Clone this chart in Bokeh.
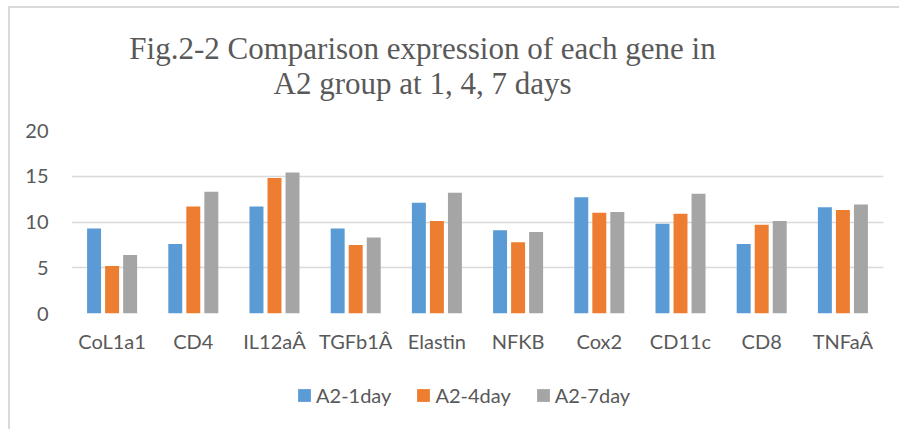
from bokeh.plotting import figure
from bokeh.layouts import column
from bokeh.models import (ColumnDataSource, FactorRange, Range1d, FixedTicker,
                          Legend, LegendItem, Label)
from bokeh.transform import dodge
from bokeh.embed import file_html
from bokeh.resources import INLINE

genes = ["CoL1a1", "CD4", "IL12aÂ", "TGFb1Â", "Elastin", "NFKB", "Cox2", "CD11c", "CD8", "TNFaÂ"]
series_names = ["A2-1day", "A2-4day", "A2-7day"]
day1 = [9.3, 7.6, 11.7, 9.3, 12.1, 9.1, 12.7, 9.8, 7.6, 11.6]
day4 = [5.2, 11.7, 14.8, 7.5, 10.1, 7.8, 11.0, 10.9, 9.7, 11.3]
day7 = [6.4, 13.3, 15.4, 8.3, 13.2, 8.9, 11.1, 13.1, 10.1, 11.9]
y_ticks = [0, 5, 10, 15, 20]
title_lines = ["Fig.2-2 Comparison expression of each gene in", "A2 group at 1, 4, 7 days"]

colors = ["#5B9BD5", "#ED7D31", "#A5A5A5"]
FONT = "Lato"
TXT = "#595959"

src = ColumnDataSource(dict(gene=genes, d1=day1, d4=day4, d7=day7))
cols = ["d1", "d4", "d7"]
offsets = [-0.222, 0.0, 0.222]

# ---- title strip ----
H0 = 110
tf = figure(width=899, height=H0, x_range=Range1d(0, 1), y_range=Range1d(0, 1),
            output_backend="svg", toolbar_location=None, title=None,
            x_axis_location=None, y_axis_location=None,
            min_border_left=71, min_border_right=16, min_border_top=0, min_border_bottom=0)
tf.outline_line_color = None
tf.background_fill_alpha = 0
tf.border_fill_alpha = 0
tf.grid.visible = False
for txt, yb in zip(title_lines, [H0 - 47.5, H0 - 82.5]):
    tf.add_layout(Label(x=351, y=yb, x_units="screen", y_units="screen", text=txt,
                        text_align="center", text_baseline="alphabetic",
                        text_font="Liberation Serif", text_font_size="31px", text_color=TXT))

# ---- main chart ----
H1 = 250
p = figure(width=899, height=H1, x_range=FactorRange(*genes), y_range=Range1d(0, 20),
           output_backend="svg", toolbar_location=None, title=None,
           min_border_left=71, min_border_right=16, min_border_top=20, min_border_bottom=47)
p.outline_line_color = None
p.background_fill_color = "white"
p.border_fill_alpha = 0

for col, off, c in zip(cols, offsets, colors):
    p.vbar(x=dodge("gene", off, range=p.x_range), top=col, width=0.172, source=src,
           fill_color=c, line_color=None)

p.xgrid.grid_line_color = None
p.ygrid.grid_line_color = "#d9d9d9"
p.ygrid.grid_line_width = 1.5
p.ygrid.ticker = FixedTicker(ticks=y_ticks)

p.yaxis.ticker = FixedTicker(ticks=y_ticks)
p.yaxis.axis_line_color = None
p.yaxis.major_tick_line_color = None
p.yaxis.major_tick_out = 0
p.yaxis.minor_tick_line_color = None
p.yaxis.major_label_standoff = 23
p.yaxis.major_label_text_font = FONT
p.yaxis.major_label_text_font_size = "20px"
p.yaxis.major_label_text_color = TXT

p.xaxis.axis_line_color = None
p.xaxis.major_tick_line_color = None
p.xaxis.major_tick_out = 0
p.xaxis.major_label_standoff = 15
p.xaxis.major_label_text_font = FONT
p.xaxis.major_label_text_font_size = "20px"
p.xaxis.major_label_text_color = TXT

# ---- legend strip (bars drawn out of view, only their legend shows) ----
H2 = 429 - H0 - H1
lg = figure(width=899, height=H2, x_range=FactorRange(*genes), y_range=Range1d(100, 101),
            output_backend="svg", toolbar_location=None, title=None,
            x_axis_location=None, y_axis_location=None,
            min_border_left=71, min_border_right=16, min_border_top=0, min_border_bottom=0)
lg.outline_line_color = None
lg.background_fill_alpha = 0
lg.border_fill_alpha = 0
lg.grid.visible = False
leg_renderers = [lg.vbar(x=dodge("gene", off, range=lg.x_range), top=col, width=0.172, source=src,
                         fill_color=c, line_color=None)
                 for col, off, c in zip(cols, offsets, colors)]
legend = Legend(items=[LegendItem(label=n, renderers=[r]) for n, r in zip(series_names, leg_renderers)],
                orientation="horizontal", location=(225, 22), padding=0, margin=0,
                spacing=24, glyph_width=16, glyph_height=16, label_standoff=4,
                label_text_font=FONT, label_text_font_size="20px", label_text_color=TXT,
                border_line_color=None, background_fill_alpha=0)
lg.add_layout(legend, "center")

layout = column(tf, p, lg, spacing=0)
layout.styles = {"background": "linear-gradient(#d9d9d9,#d9d9d9) 8px 6px / 2px 100% no-repeat, "
                               "linear-gradient(#d9d9d9,#d9d9d9) 8px 6px / 100% 2px no-repeat, white"}

open("out.html", "w").write(file_html(layout, INLINE))
